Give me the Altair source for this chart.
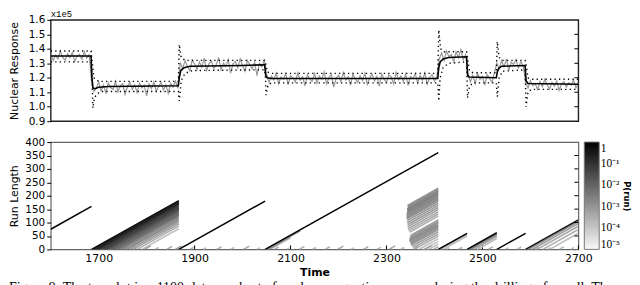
import altair as alt
import pandas as pd

# ---------------- top panel: raw readings (x1e-3 units of 1e5), one every 5 time steps ----------------
seg1 = [1372, 1318, 1355, 1330, 1384, 1341, 1322, 1366, 1338, 1375, 1312, 1350, 1361, 1327, 1380, 1335, 1358]
seg2 = [1180, 1105, 1128, 1172, 1110, 1150, 1095, 1166, 1132, 1118, 1175, 1102, 1145, 1160, 1085, 1138,
        1170, 1120, 1152, 1098, 1163, 1130, 1148, 1074, 1158, 1125, 1172, 1108, 1140, 1168, 1116, 1150,
        1092, 1162, 1135, 1178, 1128]
seg3 = [1305, 1262, 1318, 1280, 1248, 1322, 1295, 1258, 1310, 1272, 1335, 1250, 1298, 1315, 1265, 1288,
        1340, 1255, 1302, 1278, 1325, 1232, 1296, 1312, 1268, 1330, 1284, 1245, 1318, 1290, 1262, 1308,
        1215, 1300, 1275, 1320]
seg4 = [1225, 1168, 1210, 1185, 1232, 1160, 1205, 1190, 1228, 1152,
        1215, 1198, 1170, 1235, 1182, 1208, 1145, 1220, 1193, 1175,
        1230, 1162, 1212, 1188, 1240, 1158, 1202, 1222, 1135, 1196,
        1218, 1172, 1236, 1184, 1206, 1150, 1226, 1192, 1166, 1214,
        1180, 1232, 1155, 1200, 1224, 1178, 1210, 1142, 1228, 1190,
        1168, 1220, 1204, 1158, 1238, 1186, 1212, 1174, 1226, 1148,
        1208, 1194, 1230, 1164, 1216, 1182, 1234, 1156, 1202, 1222,
        1176, 1210]
seg5 = [1330, 1372, 1318, 1385, 1345, 1362, 1310, 1378, 1338, 1395, 1325, 1360]
seg6 = [1225, 1172, 1215, 1160, 1230, 1188, 1208, 1150, 1222, 1195, 1168, 1235]
seg7 = [1300, 1262, 1318, 1275, 1330, 1250, 1308, 1292, 1325, 1268, 1312, 1282]
seg8 = [1170, 1128, 1182, 1145, 1160, 1118, 1175, 1138, 1190, 1150, 1122, 1168, 1142, 1178, 1112, 1158,
        1172, 1135, 1165, 1148, 1185, 1130, 1160]
raw_times = list(range(1600, 2701, 5))
raw_vals = [v / 1000 for v in seg1 + seg2 + seg3 + seg4 + seg5 + seg6 + seg7 + seg8]

# predictive mean (vertices)
mean_t = [1600, 1684, 1686, 1688, 1692, 1700, 1720, 1866, 1868, 1871, 1878, 1890, 2000, 2046, 2048, 2051,
          2060, 2407, 2409, 2412, 2418, 2430, 2467, 2469, 2472, 2529, 2531, 2534, 2540, 2589, 2591, 2595, 2700]
mean_v = [1.35, 1.35, 1.20, 1.13, 1.125, 1.135, 1.14, 1.145, 1.20, 1.25, 1.27, 1.28, 1.285, 1.29, 1.22, 1.20,
          1.195, 1.195, 1.27, 1.31, 1.33, 1.34, 1.345, 1.22, 1.205, 1.20, 1.24, 1.265, 1.28, 1.285, 1.18, 1.16, 1.155]
# predictive 1-sigma bars (vertices)
up_t = [1600, 1684, 1687, 1690, 1700, 1866, 1868, 1872, 1880, 2046, 2048, 2052, 2060, 2407, 2409, 2413, 2420,
        2467, 2469, 2473, 2480, 2529, 2531, 2535, 2542, 2589, 2591, 2595, 2602, 2700]
up_v = [1.385, 1.385, 1.30, 1.20, 1.175, 1.175, 1.43, 1.34, 1.32, 1.32, 1.30, 1.24, 1.23, 1.23, 1.53, 1.40, 1.38,
        1.38, 1.33, 1.25, 1.235, 1.235, 1.45, 1.34, 1.32, 1.32, 1.29, 1.20, 1.19, 1.19]
lo_t = [1600, 1684, 1686, 1688, 1691, 1697, 1705, 1866, 1868, 1872, 1880, 1895, 2046, 2048, 2049, 2053, 2060,
        2407, 2409, 2412, 2418, 2430, 2467, 2469, 2473, 2480, 2529, 2531, 2535, 2542, 2589, 2591, 2595, 2602, 2700]
lo_v = [1.31, 1.31, 1.20, 0.99, 1.06, 1.09, 1.105, 1.105, 1.04, 1.18, 1.23, 1.25, 1.255, 1.18, 1.08, 1.15, 1.165,
        1.165, 1.04, 1.20, 1.27, 1.30, 1.31, 1.06, 1.14, 1.165, 1.165, 1.07, 1.20, 1.245, 1.255, 1.00, 1.10, 1.12, 1.12]

top_y_ticks = [0.9, 1.0, 1.1, 1.2, 1.3, 1.4, 1.5, 1.6]
top_right_ticks = [1.0, 1.1, 1.2, 1.3, 1.4, 1.5]

# ---------------- bottom panel: run-length posterior ----------------
main_t0 = [1600, 1685, 1867, 2047, 2408, 2468, 2530, 2590]
main_t1 = [1685, 1867, 2047, 2408, 2468, 2530, 2590, 2700]
main_r0 = [75, 0, 0, 0, 0, 0, 0, 0]
main_p = [0.9, 0.5, 0.9, 0.9, 0.9, 0.8, 0.9, 0.5]

# fan of alternative hypotheses after the 1685 change
wedge_t0 = [1688, 1691, 1694, 1697, 1700, 1704, 1708, 1712, 1716, 1720, 1725, 1730, 1735, 1740, 1746,
            1752, 1758, 1765, 1772, 1780, 1790]
wedge_p = [0.3, 0.15, 0.2, 0.08, 0.1, 0.05, 0.03, 0.04, 0.015, 0.02, 0.008, 0.01, 0.004, 0.005, 0.002,
           0.001, 0.0015, 0.0006, 0.0004, 0.0002, 0.0001]
wedge_end = 1867

# patches appearing shortly before the 2408 change: run length at 2408, first visible time, prob
blob_end = 2408
blob_r_end = [228, 222, 216, 210, 204, 198, 192, 186, 180, 172, 164, 156, 148, 140, 132, 124,
              110, 104, 98, 92, 86, 80, 74, 66, 58, 50, 40, 30, 20]
blob_ts = [2344, 2344, 2343, 2343, 2343, 2342, 2342, 2342, 2342, 2343, 2343, 2344, 2344, 2345, 2346, 2348,
           2350, 2349, 2348, 2348, 2349, 2350, 2351, 2353, 2356, 2360, 2366, 2372, 2380]
blob_p = [0.0008, 0.0015, 0.002, 0.0025, 0.002, 0.0018, 0.0015, 0.0012, 0.001, 0.0008, 0.0006, 0.0005,
          0.0004, 0.0003, 0.00025, 0.0002, 0.0005, 0.0008, 0.0011, 0.0012, 0.0011, 0.0009, 0.0007, 0.0005,
          0.0003, 0.0002, 0.00012, 0.0001, 0.0001]

# faint fringes under later paths: start, end, prob
fringe_t0 = [2051, 2056, 2412, 2418, 2472, 2476, 2482, 2490, 2596, 2604, 2614, 2626, 2640]
fringe_t1 = [2120, 2100, 2468, 2468, 2530, 2530, 2530, 2530, 2700, 2700, 2700, 2700, 2700]
fringe_p = [0.0012, 0.0004, 0.0002, 0.0001, 0.002, 0.0008, 0.0003, 0.00015, 0.001, 0.0005, 0.0003, 0.0002,
            0.00012]

# short-lived low run-length hypotheses along the base: start, length, prob
base_t0 = [1705, 1722, 1748, 1770, 1795, 1818, 1842, 1860, 1890, 1918, 1946, 1975, 2002, 2030, 2066, 2092,
           2118, 2146, 2172, 2198, 2226, 2252, 2280, 2305, 2330, 2356, 2380, 2398, 2425, 2450, 2488, 2512,
           2548, 2572, 2610, 2636, 2660, 2684]
base_len = [10, 7, 12, 8, 14, 7, 11, 13, 8, 6, 10, 7, 12, 6, 9, 5, 11, 7, 10, 12, 6, 10, 8, 13, 7, 11,
            14, 10, 6, 8, 7, 10, 6, 9, 8, 6, 10, 7]
base_p = [0.0004, 0.0002, 0.0005, 0.00025, 0.0004, 0.00015, 0.0003, 0.0005, 0.00015, 0.0001, 0.0002,
          0.00015, 0.00025, 0.0001, 0.0002, 0.0001, 0.00025, 0.00015, 0.0002, 0.0003, 0.0001, 0.0002,
          0.00015, 0.0003, 0.00015, 0.00025, 0.0004, 0.00025, 0.00015, 0.0002, 0.00015, 0.0002, 0.0001,
          0.00015, 0.00015, 0.0001, 0.00015, 0.0001]

bottom_x_ticks = [1700, 1900, 2100, 2300, 2500, 2700]
bottom_y_ticks = [0, 50, 100, 150, 200, 250, 300, 350, 400]
bottom_right_ticks = [50, 100, 150, 200, 250, 300, 350]
colorbar_values = [1, 0.1, 0.01, 0.001, 0.0001, 0.00001]

caption = ("Figure 9: The top plot is a 1100-datum subset of nuclear magnetic response during the "
           "drilling of a well. The")

# ---------------- build tables ----------------
raw_df = pd.DataFrame({"t": raw_times, "v": raw_vals})
mean_df = pd.DataFrame({"t": mean_t, "v": mean_v})
err_df = pd.concat([
    pd.DataFrame({"t": up_t, "v": up_v, "s": "upper"}),
    pd.DataFrame({"t": lo_t, "v": lo_v, "s": "lower"}),
], ignore_index=True)

main_df = pd.DataFrame({"t0": main_t0, "t1": main_t1, "r0": main_r0, "p": main_p})
main_df["r1"] = main_df["r0"] + main_df["t1"] - main_df["t0"]

fz = []
for t0, p in zip(wedge_t0, wedge_p):
    fz.append(dict(t0=t0, t1=wedge_end, r0=0, r1=wedge_end - t0, p=p))
for re_, ts, p in zip(blob_r_end, blob_ts, blob_p):
    fz.append(dict(t0=ts, t1=blob_end, r0=re_ - (blob_end - ts), r1=re_, p=p))
for t0, t1, p in zip(fringe_t0, fringe_t1, fringe_p):
    fz.append(dict(t0=t0, t1=t1, r0=0, r1=t1 - t0, p=p))
for t0, ln, p in zip(base_t0, base_len, base_p):
    fz.append(dict(t0=t0, t1=t0 + ln, r0=0, r1=ln, p=p))
fuzz_df = pd.DataFrame(fz).sort_values("p").reset_index(drop=True)

W, H1, H2, CBW, CBGAP = 531, 102, 108, 15, 6
EXT = 27  # label extent of left axes, so that the panels line up

xs = alt.Scale(domain=[1600, 2700], nice=False, zero=False)
ys_top = alt.Scale(domain=[0.9, 1.6], nice=False, zero=False)
ys_bot = alt.Scale(domain=[0, 400], nice=False, zero=False)
ys_cb = alt.Scale(type="log", domain=[1e-5, 1], nice=False)
cs = alt.Scale(type="log", domain=[1e-5, 1], range=["#f8f8f8", "#000000"], clamp=True)

X_NONE = dict(scale=xs, axis=None)

# ---------------- top chart ----------------
top_axis = alt.Axis(values=top_y_ticks, format=".1f", tickSize=4, tickCount=len(top_y_ticks),
                    domain=False, title="Nuclear Response", labelFontSize=10.5, titleFontSize=11,
                    titleFontWeight="normal", labelPadding=2, titlePadding=4, labelOverlap=False,
                    labelFlush=False, minExtent=EXT, maxExtent=EXT)
ax_top = alt.Chart(pd.DataFrame({"v": top_y_ticks})).mark_point(opacity=0, size=1).encode(
    y=alt.Y("v:Q", scale=ys_top, axis=top_axis))
gray = alt.Chart(raw_df).mark_line(color="#9a9a9a", strokeWidth=1.2, clip=True).encode(
    x=alt.X("t:Q", **X_NONE), y=alt.Y("v:Q", scale=ys_top, axis=None))
meanl = alt.Chart(mean_df).mark_line(color="black", strokeWidth=1.6, clip=True).encode(
    x=alt.X("t:Q", **X_NONE), y=alt.Y("v:Q", scale=ys_top, axis=None))
errl = alt.Chart(err_df).mark_line(color="black", strokeWidth=1.4, strokeDash=[1.3, 3.2], clip=True).encode(
    x=alt.X("t:Q", **X_NONE), y=alt.Y("v:Q", scale=ys_top, axis=None), detail="s:N")
rt_top = alt.Chart(pd.DataFrame({"v": top_right_ticks})).mark_rule(color="black").encode(
    y=alt.Y("v:Q", scale=ys_top, axis=None), x=alt.value(W - 4), x2=alt.value(W))
x1e5 = alt.Chart(pd.DataFrame({"s": ["x1e5"]})).mark_text(
    align="left", baseline="bottom", font="Liberation Mono", fontSize=9, color="black").encode(
    text="s:N", x=alt.value(0), y=alt.value(-0.5))

top = alt.layer(ax_top, gray, meanl, errl, rt_top, x1e5).resolve_scale(y="independent").properties(
    width=W, height=H1, view=alt.ViewBackground(stroke="#222", strokeWidth=1.4))

# ---------------- bottom chart (heat map + colour bar) ----------------
x_axis = alt.Axis(values=bottom_x_ticks, ticks=False, domain=False, title="Time", labelFontSize=11,
                  labelPadding=3, titleFontSize=11, titleFontWeight="bold", titlePadding=3, format="d",
                  labelFlush=False, labelOverlap=False)
y_axis = alt.Axis(values=bottom_y_ticks, tickSize=4, tickCount=len(bottom_y_ticks), domain=False,
                  title="Run Length", labelFontSize=10.5, titleFontSize=11, titleFontWeight="normal",
                  labelPadding=2, titlePadding=4, labelOverlap=False, labelFlush=False,
                  minExtent=EXT, maxExtent=EXT)
cb_axis_def = alt.Axis(orient="right", values=colorbar_values, tickCount=len(colorbar_values), ticks=False,
                       domain=False, offset=CBGAP + CBW,
                       labelExpr="datum.value >= 0.99 ? '1' : '10' + ['', '\u207b\u00b9', '\u207b\u00b2', '\u207b\u00b3', '\u207b\u2074', '\u207b\u2075'][round(-log(datum.value) / LN10)]",
                       labelFont="Liberation Serif", labelFontSize=11.5, labelPadding=1, labelFlush=True,
                       labelOverlap=False, title="P(run)", titleAngle=90, titleFont="DejaVu Sans",
                       titleFontSize=8.5, titleFontWeight="bold", titlePadding=2)

bt = alt.Chart(pd.DataFrame({"t0": bottom_x_ticks})).mark_rule(color="black").encode(
    x=alt.X("t0:Q", scale=xs, axis=x_axis), y=alt.value(H2 - 4), y2=alt.value(H2))
ax_bot = alt.Chart(pd.DataFrame({"r0": bottom_y_ticks})).mark_point(opacity=0, size=1).encode(
    y=alt.Y("r0:Q", scale=ys_bot, axis=y_axis))
fuzz = alt.Chart(fuzz_df).mark_rule(strokeWidth=1.6, clip=True, strokeCap="butt").encode(
    x=alt.X("t0:Q", **X_NONE), x2="t1:Q", y=alt.Y("r0:Q", scale=ys_bot, axis=None), y2="r1:Q",
    color=alt.Color("p:Q", scale=cs, legend=None))
mainl = alt.Chart(main_df).mark_rule(strokeWidth=1.5, clip=True, strokeCap="butt").encode(
    x=alt.X("t0:Q", **X_NONE), x2="t1:Q", y=alt.Y("r0:Q", scale=ys_bot, axis=None), y2="r1:Q",
    color=alt.Color("p:Q", scale=cs, legend=None))
rt = alt.Chart(pd.DataFrame({"r0": bottom_right_ticks})).mark_rule(color="black").encode(
    y=alt.Y("r0:Q", scale=ys_bot, axis=None), x=alt.value(W - 4), x2=alt.value(W))

grad = {"gradient": "linear", "x1": 0, "x2": 0, "y1": 0, "y2": 1,
        "stops": [{"offset": 0, "color": "#000000"}, {"offset": 1, "color": "#f8f8f8"}]}
cb_rect = alt.Chart(pd.DataFrame({"k": [0]})).mark_rect(
    color=grad, stroke="#777", strokeWidth=1).encode(
    x=alt.value(W + CBGAP), x2=alt.value(W + CBGAP + CBW), y=alt.value(0), y2=alt.value(H2))
cb_axis = alt.Chart(pd.DataFrame({"cbp": colorbar_values})).mark_point(opacity=0, size=1).encode(
    y=alt.Y("cbp:Q", scale=ys_cb, axis=cb_axis_def))

bottom = alt.layer(bt, ax_bot, fuzz, mainl, rt, cb_rect, cb_axis).resolve_scale(
    x="independent", y="independent").properties(
    width=W, height=H2, view=alt.ViewBackground(stroke="#666", strokeWidth=1.2))

# ---------------- caption row ----------------
cap = alt.Chart(pd.DataFrame({"s": [caption]})).mark_text(
    align="left", baseline="alphabetic", font="Liberation Serif", fontSize=14, color="black").encode(
    text="s:N", x=alt.value(-(EXT + 15)), y=alt.value(12)).properties(
    width=W, height=1, view=alt.ViewBackground(stroke="transparent"))

chart = alt.vconcat(alt.vconcat(top, bottom, spacing=8), cap, spacing=1).properties(
    padding={"left": 0, "top": 0, "right": 0, "bottom": 0}
).configure_axis(
    labelFont="DejaVu Sans", titleFont="DejaVu Sans", labelColor="black", titleColor="black",
    tickColor="black", grid=False, labelOverlap=False
)

chart.save("out.html", embed_options={"renderer": "svg", "actions": False})
